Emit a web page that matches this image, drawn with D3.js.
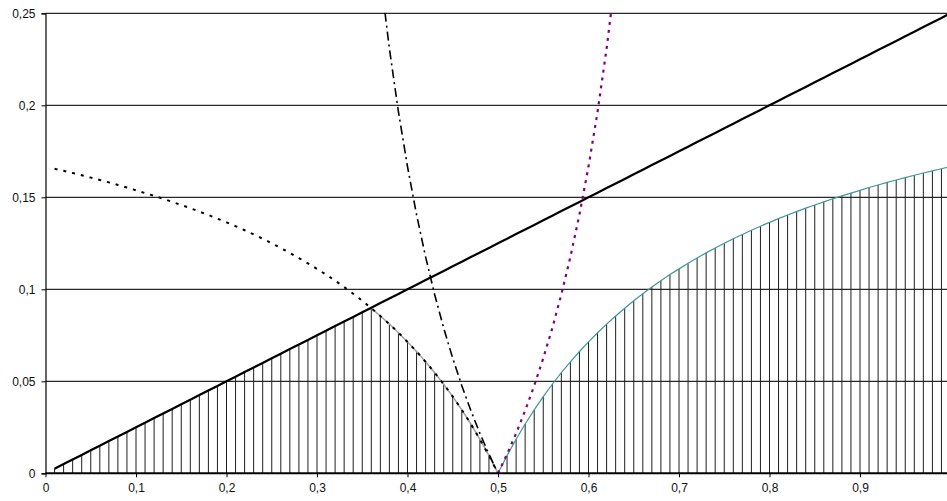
<!DOCTYPE html>
<html>
<head>
<meta charset="utf-8">
<script src="https://cdn.jsdelivr.net/npm/d3@7"></script>
<style>
  body { margin: 0; background: #fff; }
  svg { display: block; }
</style>
</head>
<body>
<svg id="chart" width="947" height="501"></svg>
<script>
// x positions of the data points (0.01 step)
var xs = [0.01,0.02,0.03,0.04,0.05,0.06,0.07,0.08,0.09,0.10,
  0.11,0.12,0.13,0.14,0.15,0.16,0.17,0.18,0.19,0.20,
  0.21,0.22,0.23,0.24,0.25,0.26,0.27,0.28,0.29,0.30,
  0.31,0.32,0.33,0.34,0.35,0.36,0.37,0.38,0.39,0.40,
  0.41,0.42,0.43,0.44,0.45,0.46,0.47,0.48,0.49,0.50,
  0.51,0.52,0.53,0.54,0.55,0.56,0.57,0.58,0.59,0.60,
  0.61,0.62,0.63,0.64,0.65,0.66,0.67,0.68,0.69,0.70,
  0.71,0.72,0.73,0.74,0.75,0.76,0.77,0.78,0.79,0.80,
  0.81,0.82,0.83,0.84,0.85,0.86,0.87,0.88,0.89,0.90,
  0.91,0.92,0.93,0.94,0.95,0.96,0.97,0.98,0.99,1.00];

// solid straight line, one value per xs
var lineValues = [.0025,.005,.0075,.01,.0125,.015,.0175,.02,.0225,.025,
  .0275,.03,.0325,.035,.0375,.04,.0425,.045,.0475,.05,
  .0525,.055,.0575,.06,.0625,.065,.0675,.07,.0725,.075,
  .0775,.08,.0825,.085,.0875,.09,.0925,.095,.0975,.1,
  .1025,.105,.1075,.11,.1125,.115,.1175,.12,.1225,.125,
  .1275,.13,.1325,.135,.1375,.14,.1425,.145,.1475,.15,
  .1525,.155,.1575,.16,.1625,.165,.1675,.17,.1725,.175,
  .1775,.18,.1825,.185,.1875,.19,.1925,.195,.1975,.2,
  .2025,.205,.2075,.21,.2125,.215,.2175,.22,.2225,.225,
  .2275,.23,.2325,.235,.2375,.24,.2425,.245,.2475,.25];

// dotted black curve, xs 0.01 .. 0.50
var dottedValues = [.1655,.1644,.1632,.1620,.1607,.1594,.1581,.1567,.1553,.1538,
  .1523,.1508,.1492,.1475,.1458,.1441,.1422,.1404,.1384,.1364,
  .1343,.1321,.1298,.1275,.125,.1224,.1198,.1170,.1141,.1111,
  .1080,.1047,.1012,.0976,.0938,.0897,.0855,.0811,.0764,.0714,
  .0662,.0606,.0547,.0484,.0417,.0345,.0268,.0185,.0096,0];

// teal curve, xs 0.50 .. 1.00
var tealValues = [0,.0096,.0185,.0268,.0345,.0417,.0484,.0547,.0606,.0662,
  .0714,.0764,.0811,.0855,.0897,.0938,.0976,.1012,.1047,.1080,
  .1111,.1141,.1170,.1198,.1224,.125,.1275,.1298,.1321,.1343,
  .1364,.1384,.1404,.1422,.1441,.1458,.1475,.1492,.1508,.1523,
  .1538,.1553,.1567,.1581,.1594,.1607,.1620,.1632,.1644,.1655,.1667];

// dash-dot black curve, xs 0.37 .. 0.50
var dashDotValues = [.2708,.2308,.1964,.1667,.1406,.1176,.0972,.0789,.0625,.0476,.0341,.0217,.0104,0];

// purple dotted curve, xs 0.50 .. 0.63
var purpleValues = [0,.0104,.0217,.0341,.0476,.0625,.0789,.0972,.1176,.1406,.1667,.1964,.2308,.2708];

var xTicks = [0,0.1,0.2,0.3,0.4,0.5,0.6,0.7,0.8,0.9];
var yTicks = [0,0.05,0.1,0.15,0.2,0.25];

// Colours
var gridColour = '#2a2a2a';
var hatchColour = '#1e1e1e';
var tealColour = '#3f9893';
var purpleColour = '#800080';
var outlineColour = '#a0a0a0';
var labelFont = '"Liberation Sans", Arial, sans-serif';

var width = 947, height = 501;
var plotLeft = 45.5, plotTop = 13.3, plotBottom = 473.3;

var x = d3.scaleLinear().domain([0, 1]).range([plotLeft, plotLeft + 905]);
var y = d3.scaleLinear().domain([0, 0.25]).range([plotBottom, plotTop]);

var svg = d3.select("#chart");

svg.append("defs").append("clipPath")
  .attr("id", "plotClip")
  .append("rect")
  .attr("x", plotLeft)
  .attr("y", plotTop - 1)
  .attr("width", width - plotLeft)
  .attr("height", plotBottom - plotTop + 2);

// pair up x positions with a series that starts at index 'start'
function pairs(values, start) {
  return values.map(function (v, i) { return [xs[start + i], v]; });
}

var linePts = pairs(lineValues, 0);
var dottedPts = pairs(dottedValues, 0);
var tealPts = pairs(tealValues, 49);
var dashDotPts = pairs(dashDotValues, 36);
var purplePts = pairs(purpleValues, 49);

// top of the hatched area = lowest of the straight line and the two side curves
var hatchTop = xs.map(function (xv, i) {
  var v = lineValues[i];
  if (i < dottedValues.length) v = Math.min(v, dottedValues[i]);
  if (i >= 49) v = Math.min(v, tealValues[i - 49]);
  return [xv, v];
});

var line = d3.line()
  .x(function (d) { return x(d[0]); })
  .y(function (d) { return y(d[1]); });

function commaFormat(d) {
  return d === 0 ? "0" : String(d).replace(".", ",");
}

// horizontal gridlines
svg.append("g").selectAll("line")
  .data(yTicks.slice(1))
  .enter().append("line")
  .attr("x1", plotLeft).attr("x2", width)
  .attr("y1", function (d) { return y(d); })
  .attr("y2", function (d) { return y(d); })
  .attr("stroke", gridColour)
  .attr("stroke-width", 1.2);

var plot = svg.append("g").attr("clip-path", "url(#plotClip)");

// vertical hatch lines
plot.append("g").selectAll("line")
  .data(hatchTop)
  .enter().append("line")
  .attr("x1", function (d) { return x(d[0]); })
  .attr("x2", function (d) { return x(d[0]); })
  .attr("y1", y(0))
  .attr("y2", function (d) { return y(d[1]); })
  .attr("stroke", hatchColour)
  .attr("stroke-width", 1);

// outline of the hatched area
plot.append("path")
  .datum(hatchTop.slice(0, 50))
  .attr("d", line)
  .attr("fill", "none")
  .attr("stroke", outlineColour)
  .attr("stroke-width", 1.5);

plot.append("path")
  .datum(tealPts)
  .attr("d", line)
  .attr("fill", "none")
  .attr("stroke", tealColour)
  .attr("stroke-width", 1.2);

// dotted black curve
plot.append("path")
  .datum(dottedPts)
  .attr("d", line)
  .attr("fill", "none")
  .attr("stroke", "black")
  .attr("stroke-width", 2)
  .attr("stroke-dasharray", "3,6");

// dash-dot curve
plot.append("path")
  .datum(dashDotPts)
  .attr("d", line)
  .attr("fill", "none")
  .attr("stroke", "black")
  .attr("stroke-width", 1.6)
  .attr("stroke-dasharray", "9,4,2,4");

// purple dotted curve
plot.append("path")
  .datum(purplePts)
  .attr("d", line)
  .attr("fill", "none")
  .attr("stroke", purpleColour)
  .attr("stroke-width", 2.2)
  .attr("stroke-dasharray", "3,5");

// straight solid line
plot.append("path")
  .datum(linePts)
  .attr("d", line)
  .attr("fill", "none")
  .attr("stroke", "black")
  .attr("stroke-width", 2.2);

// axes
var yAxis = d3.axisLeft(y)
  .tickValues(yTicks)
  .tickSize(4)
  .tickPadding(6)
  .tickFormat(commaFormat);

svg.append("g")
  .attr("transform", "translate(" + plotLeft + ",0)")
  .call(yAxis)
  .attr("font-size", 12)
  .attr("font-family", labelFont)
  .call(function (g) {
    g.select(".domain").attr("stroke", "black").attr("stroke-width", 1.2);
    g.selectAll(".tick line").attr("stroke", "black");
    g.selectAll(".tick text").attr("fill", "#111");
  });

var xAxis = d3.axisBottom(x)
  .tickValues(xTicks)
  .tickSize(4)
  .tickPadding(6)
  .tickFormat(commaFormat);

svg.append("g")
  .attr("transform", "translate(0," + plotBottom + ")")
  .call(xAxis)
  .attr("font-size", 12)
  .attr("font-family", labelFont)
  .call(function (g) {
    g.select(".domain").attr("d", "M" + plotLeft + ",0H" + width)
      .attr("stroke", "black").attr("stroke-width", 2);
    g.selectAll(".tick line").attr("stroke", "black");
    g.selectAll(".tick text").attr("fill", "#111");
  });
</script>
</body>
</html>
